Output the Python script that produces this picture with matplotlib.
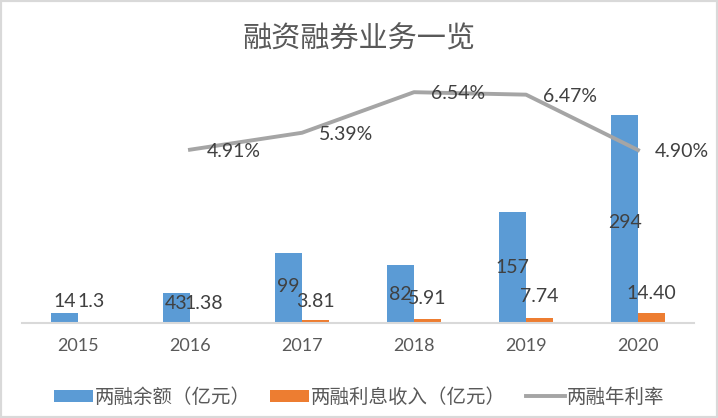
import numpy as np
import matplotlib
matplotlib.use('Agg')
from matplotlib import pyplot as plt
from matplotlib.patches import Rectangle

plt.rcParams['font.family'] = ['Noto Sans CJK SC', 'DejaVu Sans']

years = ['2015', '2016', '2017', '2018', '2019', '2020']
balance = [14, 43, 99, 82, 157, 294]                  # 两融余额（亿元）
interest = [1.3, 1.38, 3.81, 5.91, 7.74, 14.40]       # 两融利息收入（亿元）
interest_labels = ['1.3', '1.38', '3.81', '5.91', '7.74', '14.40']
rate_years = ['2016', '2017', '2018', '2019', '2020']
rate = [4.91, 5.39, 6.54, 6.47, 4.90]                 # 两融年利率 (%)

# where the data labels sit (they were dragged around in the original)
balance_label_y = [30, 28, 51, 40, 78, 143]
interest_label_y = [30, 28, 30, 35, 38, 42]

blue = '#5b9bd5'
orange = '#ed7d31'
gray = '#a5a5a5'
txt = '#595959'
lbl = '#404040'
num_font = 'Lato'

fig = plt.figure(figsize=(7.18, 4.18), dpi=100)
ax = fig.add_axes([0.0306, 0.2273, 0.936, 0.591])
ax2 = ax.twinx()

x = np.arange(len(years))
w = 0.24
b1 = ax.bar(x - 0.12, balance, w, color=blue, label='两融余额（亿元）')
b2 = ax.bar(x + 0.12, interest, w, color=orange, label='两融利息收入（亿元）')

xr = [years.index(y) for y in rate_years]
ln, = ax2.plot(xr, [r / 100 for r in rate], color=gray, lw=2.8,
               solid_joinstyle='round', label='两融年利率')

ax.set_xlim(-0.5, len(years) - 0.5)
ax.set_ylim(0, 350)
ax2.set_ylim(0, 0.07)

for i, v in enumerate(balance):
    ax.text(x[i] - 0.12, balance_label_y[i], str(v), ha='center', va='center',
            fontsize=14, color=lbl, family=num_font)
for i, s in enumerate(interest_labels):
    ax.text(x[i] + 0.12, interest_label_y[i], s, ha='center', va='center',
            fontsize=14, color=lbl, family=num_font)
for xi, r in zip(xr, rate):
    ax2.annotate(f'{r:.2f}%', (xi, r / 100), xytext=(12, -1),
                 textcoords='offset points', ha='left', va='center',
                 fontsize=14, color=lbl, family=num_font)

for a in (ax, ax2):
    for s in ('top', 'left', 'right'):
        a.spines[s].set_visible(False)
    a.set_yticks([])
ax2.spines['bottom'].set_visible(False)
ax.spines['bottom'].set_color('#d9d9d9')
ax.spines['bottom'].set_linewidth(1.5)
ax.set_xticks(x)
ax.set_xticklabels(years, fontsize=13, color=txt, family=num_font)
ax.tick_params(axis='x', length=0, pad=11)

fig.text(0.5, 0.905, '融资融券业务一览', ha='center', va='center',
         fontsize=21, color=txt)

fig.legend(handles=[b1, b2, ln], loc='center', bbox_to_anchor=(0.5, 0.05),
           ncol=3, frameon=False, fontsize=14, handlelength=2.0,
           handleheight=0.6, handletextpad=0.1, columnspacing=1.0,
           labelcolor=txt)

fig.patches.append(Rectangle((0, 0), 1, 1, transform=fig.transFigure,
                             fill=False, edgecolor='#d9d9d9', lw=3))

fig.savefig('out.png', dpi=100)
